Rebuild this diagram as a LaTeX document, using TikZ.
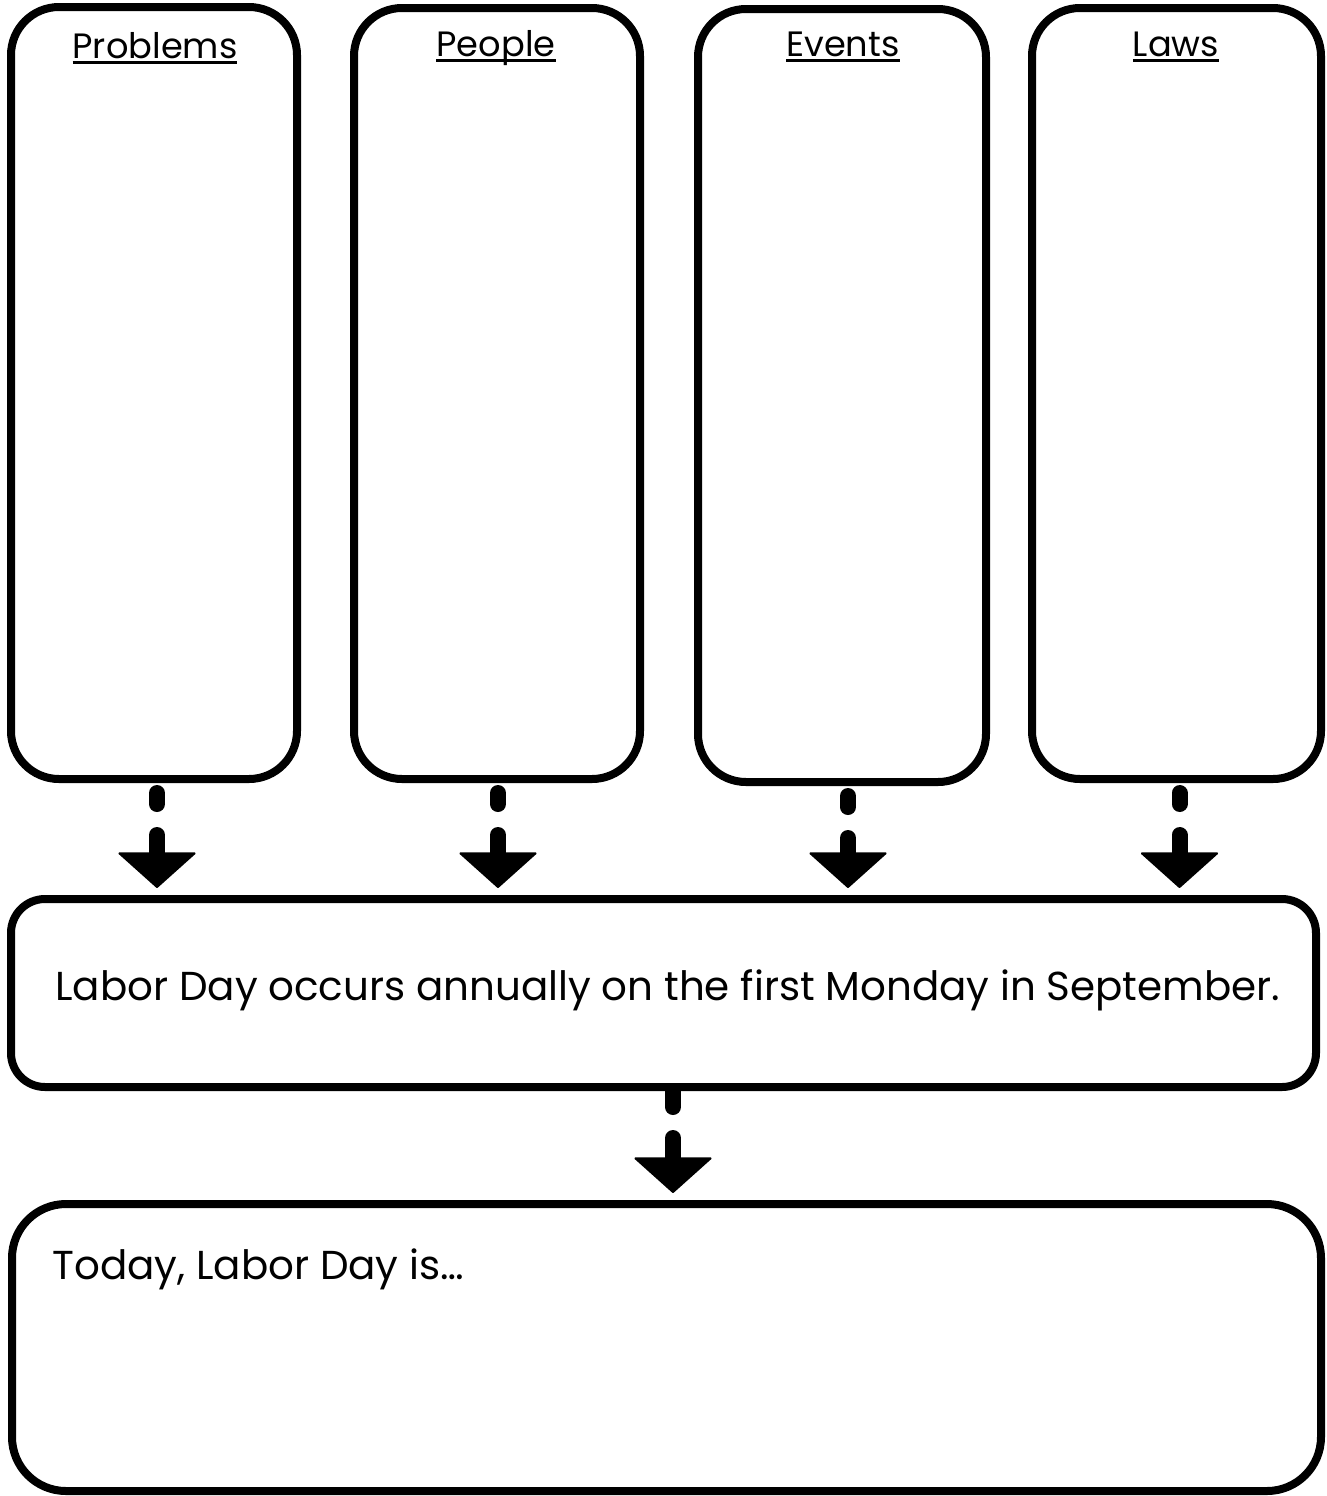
\documentclass[tikz,border=0pt]{standalone}
\usepackage{fontspec}
\setmainfont{Poppins}
\usetikzlibrary{arrows.meta}

\newcommand{\headtext}[1]{\setbox0\hbox{#1}\rlap{\rule[-2.8pt]{\wd0}{1.5pt}}\box0}

\begin{document}
\begin{tikzpicture}[x=0.5pt,y=-0.5pt,
  panel/.style={draw=black,line width=4pt,rounded corners=24pt,fill=white,inner sep=0pt},
  banner/.style={panel,rounded corners=17pt},
  answer/.style={panel,rounded corners=27pt},
  head/.style={font=\fontsize{17.6}{21}\selectfont,inner sep=0pt,anchor=base},
  body/.style={font=\fontsize{20.2}{24}\selectfont,inner sep=0pt,anchor=base west},
  flow/.style={line width=8pt,line cap=round,draw=black,
    dash pattern=on 5.5pt off 15.5pt on 400pt off 0pt,
    -{Triangle[length=18pt,width=40pt,line width=1pt,round]}}
]
  \useasboundingbox (0,0) rectangle (1327,1496);

  % four columns
  \node[panel,minimum width=143pt,minimum height=386pt] (problems) at (154,393) {};
  \node[panel,minimum width=143pt,minimum height=385.5pt] (people) at (497,393.5) {};
  \node[panel,minimum width=144pt,minimum height=386.5pt] (events) at (842,395.5) {};
  \node[panel,minimum width=144.5pt,minimum height=385.5pt] (laws) at (1176.5,393.5) {};

  \node[head] (problemsT) at (155,58) {\headtext{Problems}};
  \node[head] (peopleT) at (496,56) {\headtext{People}};
  \node[head] (eventsT) at (843,56) {\headtext{Events}};
  \node[head] (lawsT) at (1176,56) {\headtext{Laws}};

  % fact and answer boxes
  \node[banner,minimum width=652.5pt,minimum height=94pt] (fact) at (663.5,993) {};
  \node[body] (factT) at (55,1000) {Labor Day occurs annually on the first Monday in September.};

  \node[answer,minimum width=654.5pt,minimum height=143.5pt] (today) at (666.5,1347.5) {};
  \node[body] (todayT) at (52,1279) {Today, Labor Day is\ldots};

  % arrows
  \foreach \col/\dx in {problems/1.5pt,people/0.5pt,events/3pt,laws/1.5pt}
    \draw[flow,shorten <=5pt,shorten >=3.5pt] ([xshift=\dx]\col.south) -- ([xshift=\dx]\col.south |- fact.north);
  \draw[flow,dash pattern=on 8pt off 15.5pt on 400pt off 0pt,shorten >=3.5pt]
    ([xshift=4.75pt]fact.south) -- ([xshift=4.75pt]fact.south |- today.north);
\end{tikzpicture}
\end{document}
